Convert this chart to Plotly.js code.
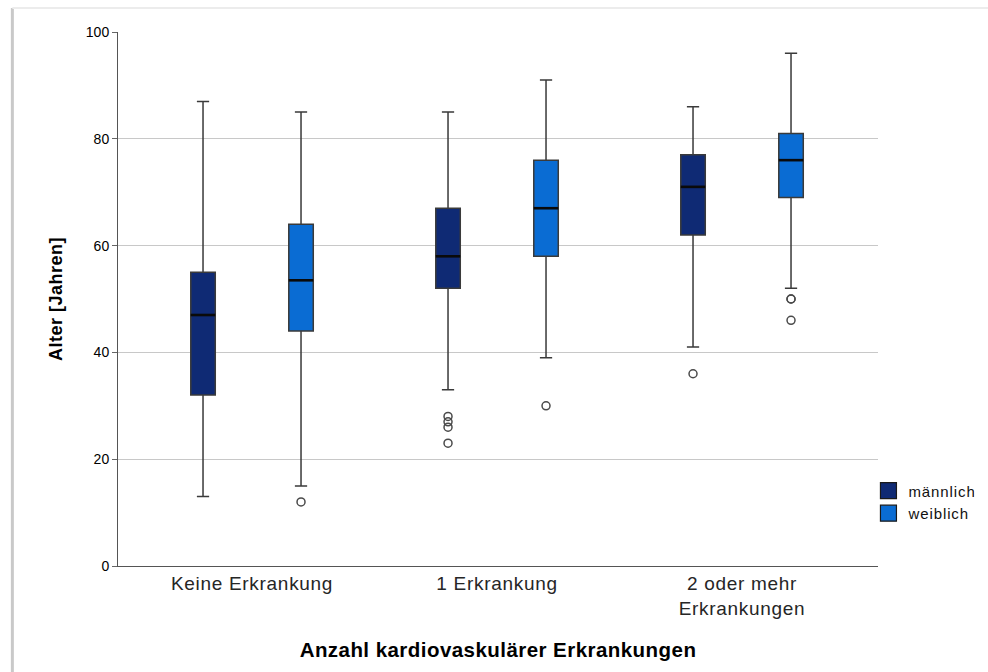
<!DOCTYPE html>
<html>
<head>
<meta charset="utf-8">
<script src="https://cdn.plot.ly/plotly-3.0.1.min.js"></script>
<style>
  html, body { margin: 0; padding: 0; background: #ffffff; }
  #chart { width: 988px; height: 672px; }
  #chart .xtick text { letter-spacing: 0.7px; }
  #chart .g-xtitle text { letter-spacing: 0.45px; }
  #chart .g-ytitle text { letter-spacing: 0.5px; }
  #chart .legendtext { letter-spacing: 0.9px; }
</style>
</head>
<body>
<div id="chart"></div>
<script>
// Altersverteilung nach Anzahl kardiovaskulärer Erkrankungen und Geschlecht
const categories = ["Keine Erkrankung", "1 Erkrankung", "2 oder mehr<br>Erkrankungen"];

// männlich: Whisker / Quartile / Median je Kategorie
const maleLower  = [13, 33, 41];
const maleQ1     = [32, 52, 62];
const maleMedian = [47, 58, 71];
const maleQ3     = [55, 67, 77];
const maleUpper  = [87, 85, 86];

// weiblich
const femaleLower  = [15, 39, 52];
const femaleQ1     = [44, 58, 69];
const femaleMedian = [53.5, 67, 76];
const femaleQ3     = [64, 76, 81];
const femaleUpper  = [85, 91, 96];

// Ausreißer: Kategorieindex und Alter
const maleOutlierCat   = [1, 1, 1, 1, 2];
const maleOutlierAge   = [28, 27, 26, 23, 36];
const femaleOutlierCat = [0, 1, 2, 2, 2];
const femaleOutlierAge = [12, 30, 50, 50, 46];

const catIndex = categories.map((_, i) => i);
const shift = 0.2;      // Versatz der Geschlechter innerhalb einer Kategorie
const boxW = 0.1;

const maleColor = "#0f2a74";
const femaleColor = "#0a6cd3";
const edge = "#3a3a3a";

function boxTrace(name, color, off, lo, q1, med, q3, hi) {
  return {
    type: "box",
    name: name,
    x: catIndex.map(i => i + off),
    lowerfence: lo, q1: q1, median: med, q3: q3, upperfence: hi,
    width: boxW,
    whiskerwidth: 0.5,
    fillcolor: color,
    line: { color: edge, width: 1.5 },
    boxpoints: false,
    showlegend: false,
    hoverinfo: "skip"
  };
}

// kräftigere Medianlinie über der Box
function medianTrace(off, med) {
  const xs = [], ys = [];
  catIndex.forEach(i => {
    xs.push(i + off - boxW / 2, i + off + boxW / 2, null);
    ys.push(med[i], med[i], null);
  });
  return {
    type: "scatter", mode: "lines", x: xs, y: ys,
    line: { color: "#0a0a0a", width: 2.6 },
    showlegend: false, hoverinfo: "skip"
  };
}

function outlierTrace(cats, ages, off) {
  return {
    type: "scatter",
    mode: "markers",
    x: cats.map(c => c + off),
    y: ages,
    showlegend: false,
    hoverinfo: "skip",
    marker: { symbol: "circle-open", size: 8, color: "#4a4a4a", line: { width: 1.5, color: "#4a4a4a" } }
  };
}

// Legendeneinträge als gefüllte Quadrate
function legendTrace(name, color) {
  return {
    type: "scatter", mode: "markers", name: name,
    x: [null], y: [null],
    marker: { symbol: "square", size: 16, color: color, line: { color: "#1a1a1a", width: 1.2 } },
    hoverinfo: "skip"
  };
}

const data = [
  boxTrace("männlich", maleColor, -shift, maleLower, maleQ1, maleMedian, maleQ3, maleUpper),
  boxTrace("weiblich", femaleColor, shift, femaleLower, femaleQ1, femaleMedian, femaleQ3, femaleUpper),
  medianTrace(-shift, maleMedian),
  medianTrace(shift, femaleMedian),
  outlierTrace(maleOutlierCat, maleOutlierAge, -shift),
  outlierTrace(femaleOutlierCat, femaleOutlierAge, shift),
  legendTrace("männlich", maleColor),
  legendTrace("weiblich", femaleColor)
];

const layout = {
  width: 988,
  height: 672,
  margin: { l: 118, r: 110, t: 32, b: 106, autoexpand: false },
  paper_bgcolor: "#ffffff",
  plot_bgcolor: "#ffffff",
  font: { family: "Liberation Sans, Arial, sans-serif", color: "#000000" },
  showlegend: true,
  legend: {
    xref: "container", yref: "container",
    x: 0.879, xanchor: "left", y: 0.294, yanchor: "top",
    font: { size: 15, color: "#111111" },
    bgcolor: "rgba(0,0,0,0)",
    tracegroupgap: 0,
    itemwidth: 30
  },
  xaxis: {
    range: [-0.547, 2.555],
    tickvals: catIndex,
    ticktext: categories,
    ticks: "",
    showgrid: false,
    zeroline: false,
    showline: true,
    linecolor: "#555555",
    linewidth: 1,
    tickfont: { size: 19, color: "#262626" },
    title: {
      text: "<b>Anzahl kardiovaskulärer Erkrankungen</b>",
      font: { size: 20.5, color: "#000000" },
      standoff: 25
    }
  },
  yaxis: {
    range: [0, 100],
    tickvals: [0, 20, 40, 60, 80, 100],
    ticks: "outside",
    ticklen: 5,
    tickcolor: "#666666",
    showgrid: true,
    gridcolor: "#c8c8c8",
    gridwidth: 1,
    zeroline: false,
    showline: true,
    linecolor: "#555555",
    linewidth: 1,
    tickfont: { size: 14, color: "#000000" },
    title: {
      text: "<b>Alter [Jahren]</b>",
      font: { size: 18, color: "#000000" },
      standoff: 18
    }
  },
  shapes: [
    { type: "line", xref: "paper", yref: "paper", x0: -0.139, x1: -0.139, y0: -0.2, y1: 1.045,
      line: { color: "#c9c9c9", width: 3 }, layer: "below" },
    { type: "line", xref: "paper", yref: "paper", x0: -0.139, x1: 1.15, y0: 1.045, y1: 1.045,
      line: { color: "#ececec", width: 2 }, layer: "below" }
  ]
};

Plotly.newPlot("chart", data, layout, { displayModeBar: false, staticPlot: true });
</script>
</body>
</html>
